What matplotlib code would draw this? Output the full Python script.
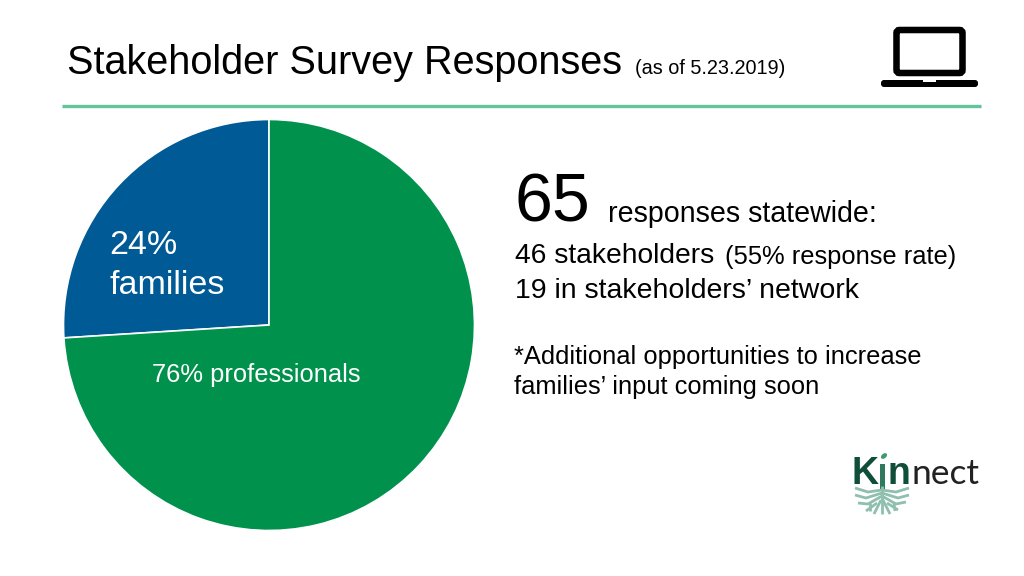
import matplotlib
matplotlib.use('Agg')
import matplotlib.pyplot as plt
from matplotlib.patches import FancyBboxPatch, Rectangle, Ellipse, PathPatch
from matplotlib.path import Path

plt.rcParams['font.family'] = ['Liberation Sans', 'DejaVu Sans']

# Pie as drawn in the picture (the slice is a little bigger than its label)
groups = ['families', 'professionals']
shares = [26, 74]
pie_colors = ['#005a96', '#00924c']
pie_labels = ['24%\nfamilies', '76% professionals']

W, H = 1024, 576
fig = plt.figure(figsize=(W / 100, H / 100), dpi=100)

# Pie
cx, cy, r = 269, 325, 205.5
ax = fig.add_axes([(cx - r) / W, 1 - (cy + r) / H, 2 * r / W, 2 * r / H])
ax.pie(shares, colors=pie_colors, startangle=90, counterclock=True, radius=1,
       wedgeprops={'edgecolor': 'white', 'linewidth': 1.2})
ax.set_xlim(-1, 1)
ax.set_ylim(-1, 1)
ax.set_aspect('equal')

# Overlay in pixel coordinates, for slide furniture and text
txt = fig.add_axes([0, 0, 1, 1])
txt.set_xlim(0, W)
txt.set_ylim(H, 0)
txt.axis('off')
txt.patch.set_alpha(0)

# Header
txt.text(67, 63, 'Stakeholder Survey Responses', fontsize=28.5, color='black', va='center')
txt.text(635, 68, '(as of 5.23.2019)', fontsize=14.3, color='black', va='center')
txt.plot([62, 981], [106, 106], color='#63c39b', lw=2.4, solid_capstyle='butt')

# Pie labels
label_top, label_bottom = pie_labels[0].split('\n')
txt.text(109, 245, label_top, fontsize=24.5, color='white', va='center')
txt.text(109, 285, label_bottom, fontsize=24.5, color='white', va='center')
txt.text(152, 375, pie_labels[1], fontsize=18.4, color='white', va='center')

# Right hand text
txt.text(514, 203, '65', fontsize=49, color='black', va='center')
txt.text(608, 214, 'responses statewide:', fontsize=20.6, color='black', va='center')
txt.text(515, 256, '46 stakeholders', fontsize=20.3, color='black', va='center')
txt.text(725, 257, '(55% response rate)', fontsize=18.4, color='black', va='center')
txt.text(515, 291, '19 in stakeholders\u2019 network', fontsize=20.5, color='black', va='center')
txt.text(514, 357, '*Additional opportunities to increase', fontsize=18.4, color='black', va='center')
txt.text(514, 387, 'families\u2019 input coming soon', fontsize=18.4, color='black', va='center')

# Laptop icon
txt.add_patch(FancyBboxPatch((896.5, 30), 66, 43, boxstyle='round,pad=0,rounding_size=3',
                             fc='white', ec='black', lw=4.7))
txt.add_patch(FancyBboxPatch((881, 80), 97, 7, boxstyle='round,pad=0,rounding_size=3',
                             fc='black', ec='none'))
txt.add_patch(Rectangle((923, 80), 13, 2.4, fc='white', ec='none'))

# Kinnect logo
dark = '#0f4f3a'
txt.text(852, 484, 'K', fontsize=27, color=dark, fontweight='bold', va='baseline')
txt.add_patch(Rectangle((880, 464), 5, 26, fc='#2f7a5c', ec='none'))
txt.text(888, 484, 'n', fontsize=27, color=dark, fontweight='bold', va='baseline')
txt.text(911, 484, 'nect', fontsize=25.5, color='#222222', va='baseline',
         family=['Lato', 'Liberation Sans'])
txt.add_patch(Ellipse((884, 456), 7, 4.5, angle=-40, fc='#3d9a6e', ec='none'))

# roots
root_color = '#8fbfae'
root_lines = [
    [(882, 486), (882, 514)],
    [(882, 490), (868, 492), (855, 488)],
    [(882, 490), (896, 492), (909, 488)],
    [(882, 493), (866, 498), (855, 495)],
    [(882, 493), (898, 498), (909, 495)],
    [(882, 496), (868, 504), (858, 503)],
    [(882, 496), (896, 504), (906, 502)],
    [(881, 500), (874, 514)],
    [(883, 500), (890, 514)],
    [(877, 503), (866, 511)],
    [(887, 503), (898, 510)],
    [(870, 503), (870, 511)],
    [(894, 503), (895, 511)],
]
for pts in root_lines:
    codes = [Path.MOVETO] + [Path.LINETO] * (len(pts) - 1)
    txt.add_patch(PathPatch(Path(pts, codes), fc='none', ec=root_color, lw=2))

fig.savefig('out.png', dpi=100, facecolor='white')
